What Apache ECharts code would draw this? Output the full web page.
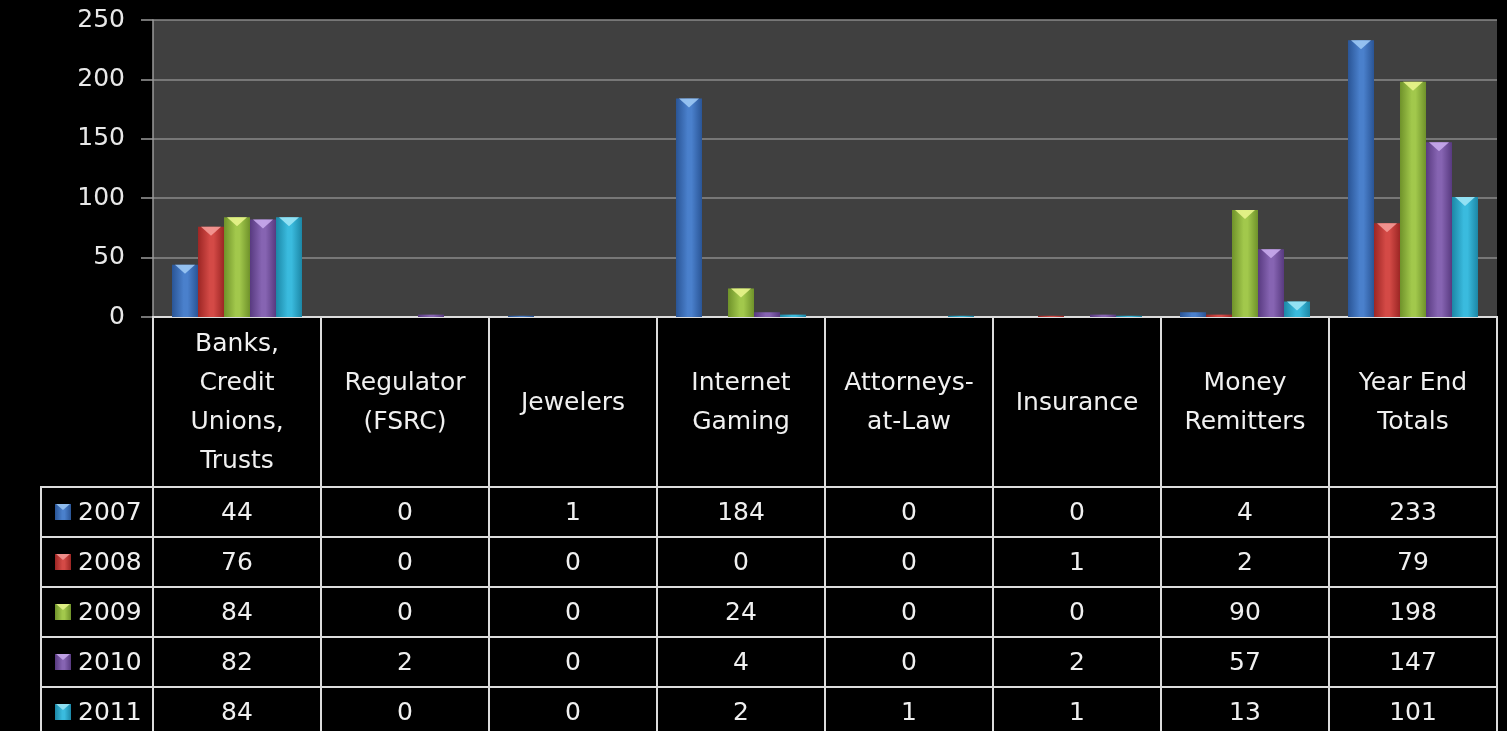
<!DOCTYPE html>
<html><head><meta charset="utf-8">
<script src="https://cdn.jsdelivr.net/npm/echarts@6/dist/echarts.min.js"></script>
<style>html,body{margin:0;padding:0;background:#000;overflow:hidden}#main{width:1507px;height:731px;}</style>
</head><body><div id="main"></div>
<script>
// ---- data ----
const categories = ['Banks,\nCredit\nUnions,\nTrusts', 'Regulator\n(FSRC)', 'Jewelers', 'Internet\nGaming', 'Attorneys-\nat-Law', 'Insurance', 'Money\nRemitters', 'Year End\nTotals'];
const years = ['2007', '2008', '2009', '2010', '2011'];
const s2007 = [44, 0, 1, 184, 0, 0, 4, 233];
const s2008 = [76, 0, 0, 0, 0, 1, 2, 79];
const s2009 = [84, 0, 0, 24, 0, 0, 90, 198];
const s2010 = [82, 2, 0, 4, 0, 2, 57, 147];
const s2011 = [84, 0, 0, 2, 1, 1, 13, 101];
const yTicks = [0, 50, 100, 150, 200, 250];

const seriesValues = [s2007, s2008, s2009, s2010, s2011];
const palette = [
  { edge: '#2a5596', mid: '#4a80cc', top: '#9cc8f4' },
  { edge: '#9c2624', mid: '#d44a46', top: '#f49a96' },
  { edge: '#6f922a', mid: '#a2c84c', top: '#e8f48c' },
  { edge: '#583a80', mid: '#8664b2', top: '#c8aaec' },
  { edge: '#1c87a6', mid: '#3abbde', top: '#9ce6f6' }
];
const FONT = 'DejaVu Sans';
const hGrad = (p) => ({ type: 'linear', x: 0, y: 0, x2: 1, y2: 0,
  colorStops: [{ offset: 0, color: p.edge }, { offset: 0.45, color: p.mid }, { offset: 0.6, color: p.mid }, { offset: 1, color: p.edge }] });

const chart = echarts.init(document.getElementById('main'), null, { renderer: 'canvas' });

const barSeries = seriesValues.map((vals, i) => ({
  name: years[i], type: 'bar', xAxisIndex: 0, yAxisIndex: 0,
  barWidth: 26, barGap: '0%', z: 2,
  itemStyle: { color: hGrad(palette[i]) },
  data: vals
}));
const capSeries = seriesValues.map((vals, i) => ({
  name: years[i] + ' cap', type: 'pictorialBar', xAxisIndex: 0, yAxisIndex: 0,
  barWidth: 26, barGap: '0%', z: 3, silent: true,
  symbol: 'path://M0,0 L20,0 L10,9 Z', symbolSize: [20, 9], symbolPosition: 'end',
  itemStyle: { color: palette[i].top, opacity: 0.9 },
  data: vals.map(v => ({ value: v, itemStyle: { opacity: v >= 8 ? 0.9 : 0 } }))
}));

const tableData = [];
seriesValues.forEach((vals, r) => vals.forEach((v, c) => tableData.push([c, r, v])));

const LINE = '#dcdcdc';
const TXT = '#f0f0f0';

function txt(text, x, y, align, extra) {
  return { type: 'text', z2: 10, style: Object.assign({ text: text, x: x, y: y, align: align, textAlign: align,
    verticalAlign: 'middle', textVerticalAlign: 'middle', fill: TXT, fontSize: 25, fontFamily: FONT }, extra || {}) };
}

const tableSeries = {
  type: 'custom', xAxisIndex: 1, yAxisIndex: 1, silent: true, clip: false,
  data: tableData,
  renderItem: function (params, api) {
    const c = api.value(0), r = api.value(1), v = api.value(2);
    const p = api.coord([c, r]);
    const s = api.size([1, 1]);
    const x0 = p[0] - s[0] / 2, y0 = p[1] - s[1] / 2;
    const children = [
      { type: 'rect', shape: { x: x0, y: y0, width: s[0], height: s[1] }, style: { fill: '#000', stroke: LINE, lineWidth: 2 } },
      txt(String(v), p[0], p[1] + 1, 'center')
    ];
    if (r === 0) {
      const hTop = 317;
      children.push({ type: 'rect', shape: { x: x0, y: hTop, width: s[0], height: y0 - hTop }, style: { fill: '#000', stroke: LINE, lineWidth: 2 } });
      children.push(txt(categories[c], p[0], (hTop + y0) / 2 + 1, 'center', { lineHeight: 39 }));
    }
    if (c === 0) {
      const left = 41;
      children.push({ type: 'rect', shape: { x: left, y: y0, width: x0 - left, height: s[1] }, style: { fill: '#000', stroke: LINE, lineWidth: 2 } });
      const pal = palette[r];
      children.push({ type: 'rect', shape: { x: 55, y: p[1] - 8, width: 16, height: 16 }, style: { fill: hGrad(pal) } });
      children.push({ type: 'polygon', shape: { points: [[56, p[1] - 8], [70, p[1] - 8], [63, p[1] - 2]] }, style: { fill: pal.top, opacity: 0.85 } });
      children.push(txt(years[r], 78, p[1] + 1, 'left'));
    }
    return { type: 'group', children: children };
  }
};

chart.setOption({
  backgroundColor: '#000',
  animation: false,
  grid: [
    { left: 153, top: 20, width: 1344, height: 297, show: true, backgroundColor: '#404040', borderWidth: 0 },
    { left: 153, top: 512, width: 1344, height: 200 }
  ],
  xAxis: [
    { type: 'category', gridIndex: 0, data: categories, axisLine: { show: false }, axisTick: { show: false }, axisLabel: { show: false }, splitLine: { show: false } },
    { type: 'category', gridIndex: 1, data: categories, show: false }
  ],
  yAxis: [
    { type: 'value', gridIndex: 0, min: yTicks[0], max: yTicks[yTicks.length - 1], interval: yTicks[1] - yTicks[0],
      axisLine: { show: true, lineStyle: { color: '#9a9a9a', width: 1.5 } },
      axisTick: { show: true, length: 12, lineStyle: { color: '#9a9a9a', width: 1.5 } },
      axisLabel: { color: '#e8e8e8', fontSize: 25, fontFamily: FONT, margin: 28 },
      splitLine: { show: true, lineStyle: { color: '#8a8a8a', width: 1.5 } } },
    { type: 'category', gridIndex: 1, data: years, inverse: true, boundaryGap: false, show: false }
  ],
  series: barSeries.concat(capSeries, [tableSeries])
});
</script></body></html>
